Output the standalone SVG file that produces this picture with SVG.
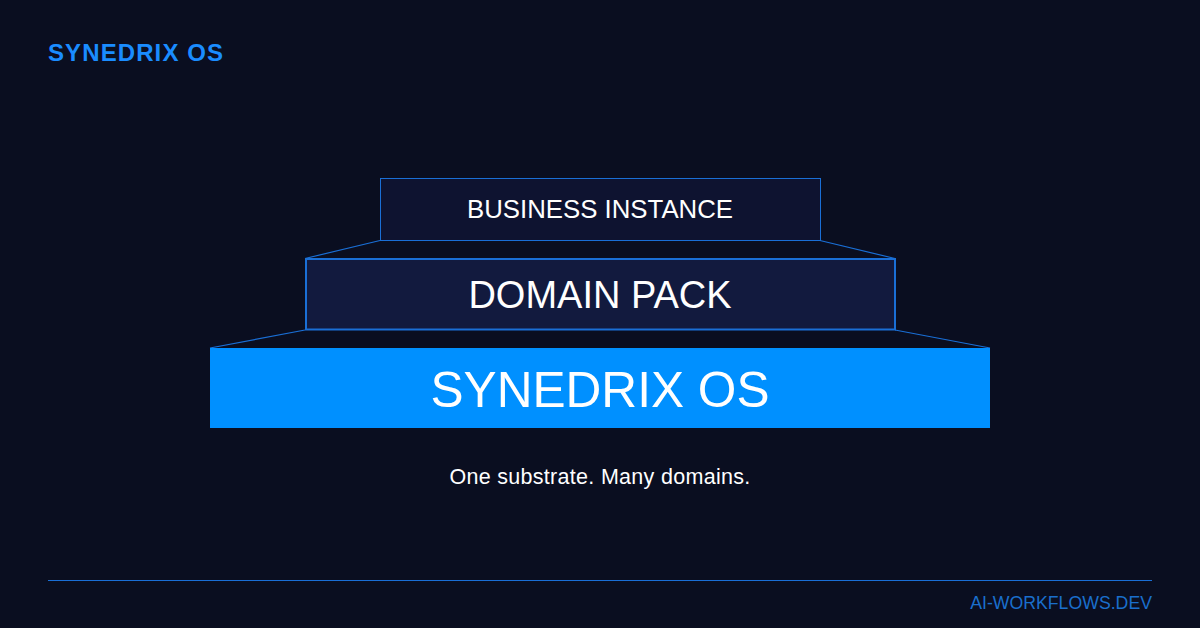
<svg xmlns="http://www.w3.org/2000/svg" width="1200" height="628" viewBox="0 0 1200 628">
<style>
text{font-family:"Liberation Sans",Arial,sans-serif;}
.w{fill:#ffffff;text-anchor:middle;}
.conn{stroke:#1a6fd6;stroke-width:1.2;fill:none;}
</style>
<rect width="1200" height="628" fill="#0a0e20"/>
<text x="48" y="61" font-size="24" font-weight="bold" fill="#1a8cff" letter-spacing="1.1">SYNEDRIX OS</text>
<g id="connectors">
<line class="conn" x1="380" y1="240.5" x2="305" y2="258.5"/>
<line class="conn" x1="820" y1="240.5" x2="895" y2="258.5"/>
<line class="conn" x1="305" y1="330" x2="210" y2="348"/>
<line class="conn" x1="895" y1="330" x2="990" y2="348"/>
</g>
<g id="business-instance">
<rect x="380.5" y="178.5" width="440" height="62" fill="#0e1330" stroke="#1a6fd6" stroke-width="1"/>
<text class="w" x="600" y="218" font-size="25.8">BUSINESS INSTANCE</text>
</g>
<g id="domain-pack">
<rect x="306" y="259" width="589" height="70.5" fill="#121a3e" stroke="#1a6fd6" stroke-width="2"/>
<text class="w" x="600" y="308" font-size="38">DOMAIN PACK</text>
</g>
<g id="synedrix-os">
<rect x="210" y="348" width="780" height="80" fill="#0090ff"/>
<text class="w" x="600" y="407" font-size="49.6">SYNEDRIX OS</text>
</g>
<text class="w" x="600" y="484" font-size="21.5" letter-spacing="0.3">One substrate. Many domains.</text>
<line x1="48" y1="580.5" x2="1152" y2="580.5" stroke="#1a6fd6" stroke-width="1"/>
<text x="1152" y="609" font-size="17.7" fill="#1a6fcc" text-anchor="end">AI-WORKFLOWS.DEV</text>
</svg>
